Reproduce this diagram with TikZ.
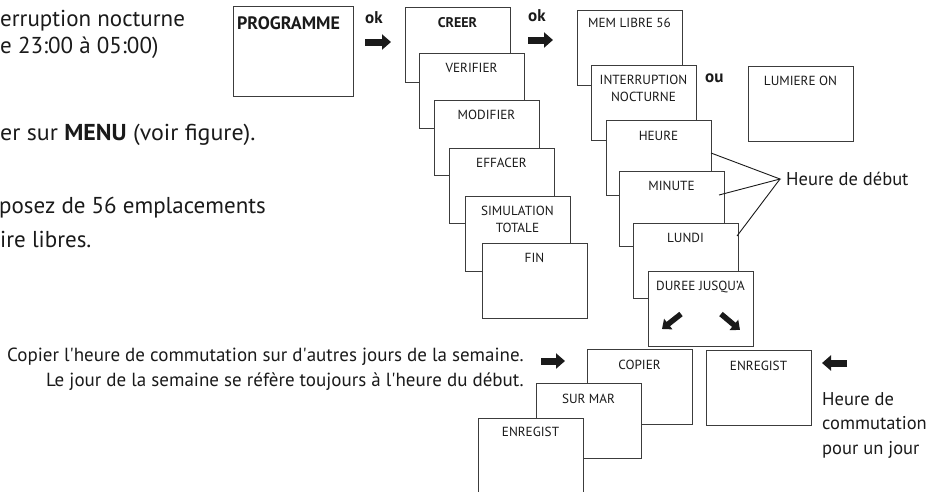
\documentclass[tikz,border=0pt]{standalone}
\usepackage{fontspec}
\setmainfont{PT Sans}
\usetikzlibrary{arrows.meta}
\definecolor{ink}{HTML}{1A1A1A}
\definecolor{edge}{HTML}{3C3C3C}
\begin{document}
\begin{tikzpicture}[x=1pt,y=-1pt,
  scr/.style={draw=edge, line width=0.9pt, fill=white, minimum width=105pt,
    minimum height=75pt, anchor=north west, inner sep=0pt, outer sep=0pt},
  lab/.style={font=\fontsize{13.2}{17}\selectfont, text=ink, anchor=north,
    inner sep=0pt, align=center},
  blab/.style={lab, font=\bfseries\fontsize{14}{17}\selectfont},
  lefttxt/.style={font=\fontsize{23}{27}\selectfont, text=ink, inner sep=0pt, anchor=base west},
  txt/.style={font=\fontsize{18.5}{24.5}\selectfont, text=ink, inner sep=0pt},
  oktxt/.style={font=\bfseries\fontsize{17}{18}\selectfont, text=ink, inner sep=0pt, anchor=base west},
  bigarrow/.style={draw=ink, line width=7pt, -{Triangle[length=9pt,width=15pt]}},
  smallarrow/.style={draw=ink, line width=5.5pt, -{Triangle[length=8pt,width=13pt]}},
  pointer/.style={draw=ink, line width=0.9pt}
]
\useasboundingbox (0,0) rectangle (931,491);
\clip (0,0) rectangle (931,491);

% left text (cut at the left edge)
\node[lefttxt] (l1) at (0,26) {erruption nocturne};
\node[lefttxt] (l2) at (0,53) {e 23:00 à 05:00)};
\node[lefttxt] (l3) at (0,140) {\scalebox{1.04}[1]{er sur \textbf{MENU} (voir figure).}};
\node[lefttxt] (l4) at (-1,213) {posez de 56 emplacements};
\node[lefttxt] (l5) at (0,247) {ire libres.};

% PROGRAMME
\node[scr, minimum width=120pt, minimum height=90pt] (prog) at (233,6) {};
\node[font=\bfseries\fontsize{18}{20}\selectfont, text=ink, inner sep=0pt, anchor=north west] (progt) at (237,16) {PROGRAMME};

% first ok arrow
\node[oktxt] (ok1) at (365,23) {ok};
\coordinate (a1s) at (365,42);
\coordinate (a1e) at (391,42);
\draw[bigarrow] (a1s) -- (a1e);

% menu stack
\node[scr] (creer) at (405,7) {};
\node[blab] at ([yshift=-10pt]creer.north) {CREER};
\node[scr] (verif) at (419,53) {};
\node[lab] at ([yshift=-10pt]verif.north) {VERIFIER};
\node[scr] (modif) at (434,100) {};
\node[lab] at ([yshift=-10pt]modif.north) {MODIFIER};
\node[scr] (effac) at (449,148) {};
\node[lab] at ([yshift=-10pt]effac.north) {EFFACER};
\node[scr] (simul) at (465,196) {};
\node[lab] at ([yshift=-10pt]simul.north) {SIMULATION\\TOTALE};
\node[scr] (fin) at (482,243) {};
\node[lab] at ([yshift=-10pt]fin.north) {FIN};

% second ok arrow
\node[oktxt] (ok2) at (528,21) {ok};
\coordinate (a2s) at (528,40);
\coordinate (a2e) at (553,40);
\draw[bigarrow] (a2s) -- (a2e);

% creer stack
\node[scr] (mem) at (577,10) {};
\node[lab] at ([yshift=-8pt]mem.north) {MEM LIBRE 56};
\node[scr] (inter) at (591,65) {};
\node[lab] at ([yshift=-10pt]inter.north) {INTERRUPTION\\NOCTURNE};
\node[scr] (heure) at (606,120) {};
\node[lab] at ([yshift=-11pt]heure.north) {HEURE};
\node[scr] (minute) at (619,171) {};
\node[lab] at ([yshift=-10pt]minute.north) {MINUTE};
\node[scr] (lundi) at (633,223) {};
\node[lab] at ([yshift=-10pt]lundi.north) {LUNDI};
\node[scr] (duree) at (648,271) {};
\node[lab] at ([yshift=-10pt]duree.north) {DUREE JUSQU’A};
\coordinate (d1s) at (681,314);
\coordinate (d1e) at (662,329);
\coordinate (d2s) at (721,314);
\coordinate (d2e) at (740,330);
\draw[smallarrow] (d1s) -- (d1e);
\draw[smallarrow] (d2s) -- (d2e);

% ou / lumiere
\node[oktxt] (ou) at (705,82) {ou};
\node[scr] (lum) at (748,66) {};
\node[lab] at ([yshift=-10pt]lum.north) {LUMIERE ON};

% heure de debut
\node[txt, anchor=west] (hdd) at (786,179) {Heure de début};
\coordinate (apex) at (780,179);
\coordinate (p1) at (711,153);
\coordinate (p2) at (719,195);
\coordinate (p3) at (737,236);
\draw[pointer] (p1) -- (apex) -- (p2);
\draw[pointer] (apex) -- (p3);

% lower part
\node[txt, font=\fontsize{19}{24.5}\selectfont, anchor=base east, align=right] (cop) at (524,386)
  {Copier l\textquotesingle heure de commutation sur d\textquotesingle autres jours de la semaine.\\Le jour de la semaine se réfère toujours à l\textquotesingle heure du début.};
\coordinate (a3s) at (541,361);
\coordinate (a3e) at (565,361);
\draw[bigarrow] (a3s) -- (a3e);

\node[scr] (copier) at (587,349) {};
\node[lab] at ([yshift=-11pt]copier.north) {COPIER};
\node[scr] (surmar) at (536,383) {};
\node[lab] at ([yshift=-11pt]surmar.north) {SUR MAR};
\node[scr] (enr1) at (478,418) {};
\node[lab] at ([yshift=-9pt]enr1.north) {ENREGIST};

\node[scr] (enr2) at (706,350) {};
\node[lab] at ([yshift=-11pt]enr2.north) {ENREGIST};
\coordinate (a4s) at (847,363);
\coordinate (a4e) at (822,363);
\draw[bigarrow] (a4s) -- (a4e);

\node[txt, anchor=base west, align=left] (hcj) at (822,454)
  {Heure de\\commutation\\pour un jour};
\end{tikzpicture}
\end{document}
